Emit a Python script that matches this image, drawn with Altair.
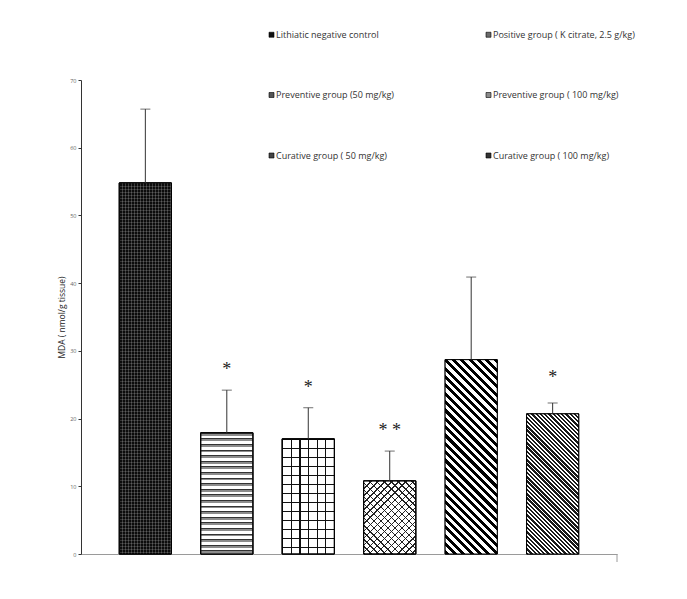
import math
import altair as alt
import pandas as pd

# ---------------- data ----------------
groups = [
    "Lithiatic negative control",
    "Positive group ( K citrate, 2.5 g/kg)",
    "Preventive group (50 mg/kg)",
    "Preventive group ( 100 mg/kg)",
    "Curative group ( 50 mg/kg)",
    "Curative group ( 100 mg/kg)",
]
mda_mean = [54.8, 17.9, 17.0, 10.8, 28.7, 20.7]
mda_sd = [10.9, 6.3, 4.6, 4.4, 12.2, 1.6]
sig_marks = ["", "*", "*", "* *", "", "*"]
sig_level = [0, 27.8, 25.1, 18.8, 0, 26.6]
y_ticks = [0, 10, 20, 30, 40, 50, 60, 70]
legend_swatch = ["#111111", "#6a6a6a", "#555555", "#8a8a8a", "#444444", "#333333"]

df = pd.DataFrame({
    "group": groups,
    "mean": mda_mean,
    "upper": [m + s for m, s in zip(mda_mean, mda_sd)],
    "sig": sig_marks,
    "sig_y": sig_level,
})

# ---------------- layout / style ----------------
W, H = 536, 474
YMAX = 70
PAD_IN, PAD_OUT = 0.36, 0.47
step = W / (len(groups) - PAD_IN + 2 * PAD_OUT)
bw = step * (1 - PAD_IN)


def _stops(period_t, thick_t, tmax, c_line, c_bg):
    stops = []
    k = 0
    while True:
        o = k * period_t
        m = min(o + thick_t, 1.0)
        e = min((k + 1) * period_t, 1.0)
        stops += [(o, c_line), (m, c_line), (m, c_bg), (e, c_bg)]
        if e >= 1.0 or o > tmax + period_t:
            break
        k += 1
    if stops[-1][0] < 1.0:
        stops.append((1.0, c_bg))
    return [{"offset": round(min(o, 1.0), 5), "color": c} for o, c in stops]


def horiz_lines(h, period, thick, c_line, c_bg):
    return {"gradient": "linear", "x1": 0, "y1": 0, "x2": 0, "y2": 1,
            "stops": _stops(period / h, thick / h, 1.0, c_line, c_bg)}


def vert_lines(w, period, thick, c_line, c_bg):
    return {"gradient": "linear", "x1": 0, "y1": 0, "x2": 1, "y2": 0,
            "stops": _stops(period / w, thick / w, 1.0, c_line, c_bg)}


def diag_lines(w, h, period, thick, c_line, c_bg, back=True):
    r = h / w
    S = w * (1 + r * r)
    tmax = (w + h) / S
    pt = period * math.sqrt(2) / S
    tt = thick * math.sqrt(2) / S
    if back:   # "\" lines
        g = {"x1": 0, "y1": 1, "x2": 1, "y2": 1 - r}
    else:      # "/" lines
        g = {"x1": 0, "y1": 0, "x2": 1, "y2": r}
    g.update({"gradient": "linear", "stops": _stops(pt, tt, tmax, c_line, c_bg)})
    return g


def bar_h(v):
    return v * H / YMAX


hs = [bar_h(v) for v in mda_mean]
T = "rgba(0,0,0,0)"
patterns = [
    [horiz_lines(hs[0], 3.0, 1.0, "#333333", "#0c0c0c"),
     vert_lines(bw, 3.0, 1.0, "rgba(255,255,255,0.2)", T)],
    [horiz_lines(hs[1], 5.6, 2.8, "#8c8c8c", "#ffffff"),
     horiz_lines(hs[1], 5.6, 1.0, "#333333", T)],
    [horiz_lines(hs[2], 9.0, 1.2, "#111111", "#ffffff"),
     vert_lines(bw, 8.6, 1.2, "#111111", T)],
    [diag_lines(bw, hs[3], 5.0, 1.0, "#222222", "#ffffff", back=True),
     diag_lines(bw, hs[3], 5.0, 1.0, "#222222", T, back=False)],
    [diag_lines(bw, hs[4], 5.9, 2.9, "#000000", "#ffffff", back=True)],
    [diag_lines(bw, hs[5], 3.0, 1.7, "#1a1a1a", "#ffffff", back=True)],
]

x_enc = alt.X(
    "group:N", sort=groups,
    scale=alt.Scale(domain=groups, paddingInner=PAD_IN, paddingOuter=PAD_OUT),
    axis=alt.Axis(labels=False, ticks=False, title=None, domainColor="#9a9a9a", domainWidth=1),
)
y_enc = alt.Y(
    "mean:Q",
    scale=alt.Scale(domain=[0, YMAX], nice=False),
    axis=alt.Axis(
        values=y_ticks, grid=False, tickSize=3, tickColor="#333", domainColor="#333",
        labelFontSize=5.5, labelColor="#666", labelPadding=2, labelFont="Open Sans",
        title="MDA ( nmol/g  tissue)", titleFont="Open Sans", titleFontSize=8.5,
        titleFontWeight="normal", titleColor="#222", titlePadding=3,
    ),
)

base = alt.Chart(df)

bars = base.mark_bar(stroke="black", strokeWidth=1).encode(
    x=x_enc, y=y_enc,
    fill=alt.Fill(
        "group:N", sort=groups,
        scale=alt.Scale(domain=groups, range=legend_swatch),
        legend=alt.Legend(
            orient="none", legendX=186, legendY=-50, columns=2, direction="horizontal",
            columnPadding=90, rowPadding=50.5, title=None, padding=0,
            symbolType="square", symbolSize=25, symbolStrokeColor="black",
            symbolStrokeWidth=0.6, labelFont="Open Sans", labelFontSize=9,
            labelColor="#333", labelOffset=0, labelLimit=400,
        ),
    ),
)

layers = [bars]
for g, pats in zip(groups, patterns):
    for p in pats:
        layers.append(
            base.transform_filter(alt.datum.group == g)
            .mark_bar(fill=p, stroke="black", strokeWidth=1)
            .encode(x=alt.X("group:N", sort=groups), y="mean:Q")
        )

err = base.mark_rule(color="#333", strokeWidth=1).encode(
    x=alt.X("group:N", sort=groups), y="mean:Q", y2="upper:Q")
caps = base.mark_tick(color="#333", size=10, thickness=1).encode(
    x=alt.X("group:N", sort=groups), y="upper:Q")
stars = base.transform_filter(alt.datum.sig != "").mark_text(
    font="Liberation Serif", fontSize=18, color="#222", baseline="alphabetic", dy=9
).encode(x=alt.X("group:N", sort=groups), y="sig_y:Q", text="sig:N")
end_tick = alt.Chart(pd.DataFrame({"k": [0]})).mark_rule(color="#9a9a9a").encode(
    x=alt.value(W), y=alt.value(H), y2=alt.value(H + 8))

chart = alt.layer(*layers, err, caps, stars, end_tick).properties(
    width=W, height=H,
    background="white",
    autosize=alt.AutoSizeParams(type="none"),
    padding={"left": 73, "top": 72, "right": 62, "bottom": 30},
).configure_view(stroke=None)

chart.save("out.html", embed_options={"renderer": "svg", "actions": False})
